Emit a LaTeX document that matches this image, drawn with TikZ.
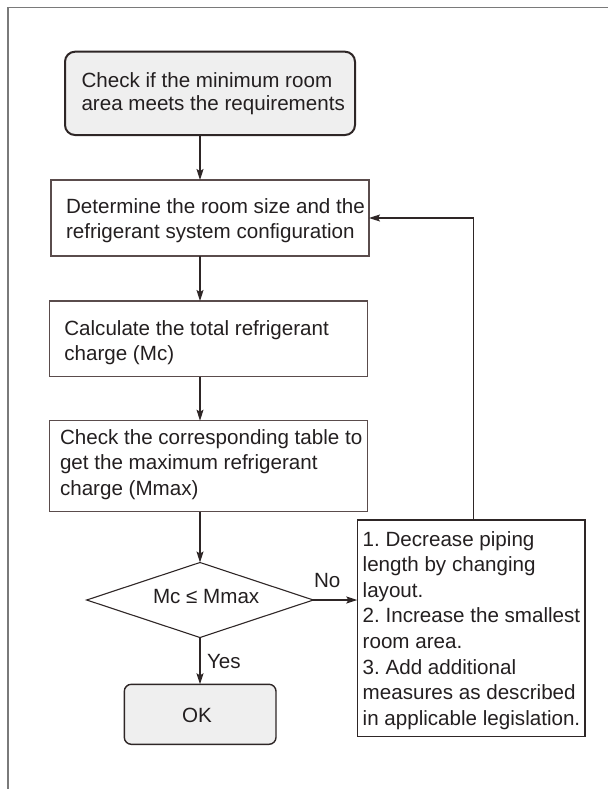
\documentclass[tikz,border=0pt]{standalone}
\usepackage{fontspec}
\setmainfont{Liberation Sans}
\usetikzlibrary{shapes.geometric,arrows.meta}
\definecolor{ink}{HTML}{231F20}
\definecolor{edge}{HTML}{5A4C4C}
\definecolor{darkedge}{HTML}{2E2626}
\definecolor{framegray}{HTML}{7A7A7A}
\definecolor{boxfill}{HTML}{EFEFEF}
\frenchspacing
\newcommand{\txtlines}[2][25.6]{\vtop{\baselineskip=#1pt\relax #2}}
\begin{document}
\begin{tikzpicture}[x=1pt,y=-1pt,
  every node/.style={inner sep=0pt, outer sep=0pt, text=ink, font=\fontsize{20.6}{25.6}\selectfont},
  boxnode/.style={draw=edge, line width=1.2pt, anchor=north west},
  startnode/.style={draw=darkedge, line width=2pt, fill=boxfill, rounded corners=10pt, anchor=north west},
  oknode/.style={draw=darkedge, line width=1.4pt, fill=boxfill, rounded corners=7pt, anchor=north west},
  fixnode/.style={draw=darkedge, line width=1.4pt, anchor=north west},
  decision/.style={diamond, draw=darkedge, line width=1.1pt},
  txt/.style={anchor=base west},
  flow/.style={draw=darkedge, line width=1.2pt, -{Stealth[length=11pt,width=7pt,inset=2pt]}},
]
\useasboundingbox (0,0) rectangle (608,789);
\draw[framegray, line width=1.3pt] (8,789) -- (8,7.5) -- (608,7.5);

\node[startnode, minimum width=290pt, minimum height=83.3pt] (start) at (65,51.7) {};
\node[txt] (starttxt) at (81.5,87.5) {\txtlines[23]{\hbox{Check if the minimum room}\hbox{area meets the requirements}}};

\node[boxnode, minimum width=318pt, minimum height=76pt] (b2) at (51,180) {};
\node[txt] (b2txt) at (66,213.5) {\txtlines[25]{\hbox{Determine the room size and the}\hbox{refrigerant system configuration}}};

\node[boxnode, minimum width=318pt, minimum height=75.7pt] (b3) at (49.3,301) {};
\node[txt] (b3txt) at (64.3,335) {\txtlines[25.8]{\hbox{Calculate the total refrigerant}\hbox{charge (Mc)}}};

\node[boxnode, minimum width=318pt, minimum height=91pt] (b4) at (49.3,420.7) {};
\node[txt] (b4txt) at (60,444) {\txtlines[25.8]{\hbox{Check the corresponding table to}\hbox{get the maximum refrigerant}\hbox{charge (Mmax)}}};

\node[decision, minimum width=226.6pt, minimum height=75pt] (dia) at (200,600) {};
\node[txt] (diatxt) at (153,603.3) {Mc ≤ Mmax};

\node[txt] (notxt) at (314,587.5) {No};
\node[txt] (yestxt) at (207,668.3) {Yes};

\node[oknode, minimum width=151.7pt, minimum height=60pt] (ok) at (124.3,684.3) {};
\node[anchor=base] (oktxt) at (197,722.7) {OK};

\node[fixnode, minimum width=227.7pt, minimum height=216.7pt] (fix) at (357.3,520) {};
\node[txt] (fixtxt) at (362.7,546) {\txtlines[25.6]{\hbox{1. Decrease piping}\hbox{length by changing}\hbox{layout.}\hbox{2. Increase the smallest}\hbox{room area.}\hbox{3. Add additional}\hbox{measures as described}\hbox{in applicable legislation.}}};

\draw[flow] (start.south -| dia.north) -- (b2.north -| dia.north);
\draw[flow] (b2.south -| dia.north) -- (b3.north -| dia.north);
\draw[flow] (b3.south -| dia.north) -- (b4.north -| dia.north);
\draw[flow] (b4.south -| dia.north) -- (dia.north);
\draw[flow] (dia.south) -- (ok.north -| dia.south);
\draw[flow] (dia.east) -- (dia.east -| fix.west);
\draw[flow] ([xshift=2pt]fix.north) |- (b2.east);
\end{tikzpicture}
\end{document}
